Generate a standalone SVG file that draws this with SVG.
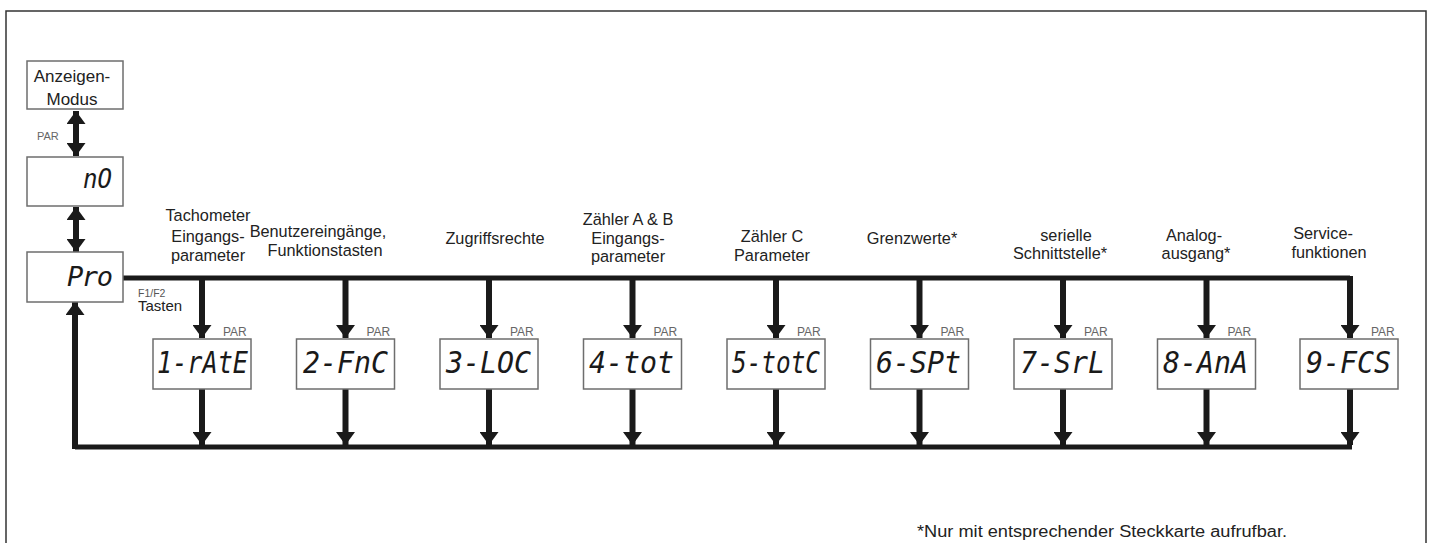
<svg xmlns="http://www.w3.org/2000/svg" width="1431" height="543" viewBox="0 0 1431 543">
<style>
.frame{fill:none;stroke:#333;stroke-width:1.5}
.box{fill:#fff;stroke:#6e6e6e;stroke-width:1.5}
.lbl{font-family:"Liberation Sans",Arial,sans-serif;font-size:16.3px;fill:#222;text-anchor:middle}
.par{font-family:"Liberation Sans",Arial,sans-serif;font-size:12px;fill:#666}
.seg{font-family:"DejaVu Sans Mono","Liberation Mono",monospace;font-style:italic;font-size:30px;fill:#1a1a1a}
.wire{fill:none;stroke:#1a1a1a;stroke-width:6;stroke-linejoin:miter}
.bus{fill:none;stroke:#1a1a1a;stroke-width:5;stroke-linejoin:miter}
</style>
<defs>
<marker id="head" markerUnits="userSpaceOnUse" viewBox="0 0 13 19" markerWidth="13" markerHeight="19" refX="13" refY="9.5" orient="auto">
<path d="M0,0 L13,9.5 L0,19 Z" fill="#1a1a1a"/>
</marker>
<marker id="headS" markerUnits="userSpaceOnUse" viewBox="0 0 13 19" markerWidth="13" markerHeight="19" refX="13" refY="9.5" orient="auto-start-reverse">
<path d="M0,0 L13,9.5 L0,19 Z" fill="#1a1a1a"/>
</marker>
</defs>
<rect width="1431" height="543" fill="#fff"/>
<path class="frame" d="M6,543 V11 H1426 V543"/>

<g id="connectors">
<line class="wire" x1="76" y1="111" x2="76" y2="156" marker-start="url(#headS)" marker-end="url(#head)"/>
<line class="wire" x1="76" y1="207" x2="76" y2="252" marker-start="url(#headS)" marker-end="url(#head)"/>
<path class="bus" d="M123,278 H1350"/>
<line class="wire" x1="1350" y1="276" x2="1350" y2="338" marker-end="url(#head)"/>
<path class="bus" d="M1352,447 H75"/>
<line class="wire" x1="75" y1="449" x2="75" y2="302" marker-end="url(#head)"/>
<g>
<line class="wire" x1="202" y1="278" x2="202" y2="338" marker-end="url(#head)"/>
<line class="wire" x1="345.5" y1="278" x2="345.5" y2="338" marker-end="url(#head)"/>
<line class="wire" x1="489" y1="278" x2="489" y2="338" marker-end="url(#head)"/>
<line class="wire" x1="632.5" y1="278" x2="632.5" y2="338" marker-end="url(#head)"/>
<line class="wire" x1="776" y1="278" x2="776" y2="338" marker-end="url(#head)"/>
<line class="wire" x1="919.5" y1="278" x2="919.5" y2="338" marker-end="url(#head)"/>
<line class="wire" x1="1063" y1="278" x2="1063" y2="338" marker-end="url(#head)"/>
<line class="wire" x1="1206.5" y1="278" x2="1206.5" y2="338" marker-end="url(#head)"/>
</g>
<g>
<line class="wire" x1="202" y1="389" x2="202" y2="445" marker-end="url(#head)"/>
<line class="wire" x1="345.5" y1="389" x2="345.5" y2="445" marker-end="url(#head)"/>
<line class="wire" x1="489" y1="389" x2="489" y2="445" marker-end="url(#head)"/>
<line class="wire" x1="632.5" y1="389" x2="632.5" y2="445" marker-end="url(#head)"/>
<line class="wire" x1="776" y1="389" x2="776" y2="445" marker-end="url(#head)"/>
<line class="wire" x1="919.5" y1="389" x2="919.5" y2="445" marker-end="url(#head)"/>
<line class="wire" x1="1063" y1="389" x2="1063" y2="445" marker-end="url(#head)"/>
<line class="wire" x1="1206.5" y1="389" x2="1206.5" y2="445" marker-end="url(#head)"/>
<line class="wire" x1="1350" y1="389" x2="1350" y2="445" marker-end="url(#head)"/>
</g>
<text class="par" x="37" y="140" style="font-size:11px">PAR</text>
<text class="par" x="138" y="297" style="font-size:10.5px;fill:#555">F1/F2</text>
<text class="lbl" x="138" y="311" style="text-anchor:start;font-size:15px">Tasten</text>
</g>

<g id="anzeigen-modus">
<rect class="box" x="27" y="61" width="96" height="48"/>
<text class="lbl" x="72" y="82" style="font-size:17px">Anzeigen-</text>
<text class="lbl" x="72" y="105" style="font-size:17px">Modus</text>
</g>
<g id="no">
<rect class="box" x="27" y="157" width="96" height="49"/>
<text class="seg" x="83" y="188" textLength="29" lengthAdjust="spacingAndGlyphs" style="font-size:26px">nO</text>
</g>
<g id="pro">
<rect class="box" x="27" y="252" width="96" height="50"/>
<text class="seg" x="67" y="286" textLength="46" lengthAdjust="spacing" style="font-size:27px">Pro</text>
</g>

<g id="n1">
<text class="lbl" x="208" y="221">Tachometer</text>
<text class="lbl" x="208" y="242">Eingangs-</text>
<text class="lbl" x="208" y="261">parameter</text>
<rect class="box" x="153" y="339" width="98" height="50"/>
<text class="seg" x="157" y="373" textLength="91" lengthAdjust="spacingAndGlyphs">1-rAtE</text>
<text class="par" x="223" y="336">PAR</text>
</g>
<g id="n2">
<text class="lbl" x="318" y="237">Benutzereingänge,</text>
<text class="lbl" x="325" y="256">Funktionstasten</text>
<rect class="box" x="296.5" y="339" width="98" height="50"/>
<text class="seg" x="303" y="373" textLength="85" lengthAdjust="spacingAndGlyphs">2-FnC</text>
<text class="par" x="366.5" y="336">PAR</text>
</g>
<g id="n3">
<text class="lbl" x="495" y="244">Zugriffsrechte</text>
<rect class="box" x="440" y="339" width="98" height="50"/>
<text class="seg" x="446" y="373" textLength="85" lengthAdjust="spacingAndGlyphs">3-LOC</text>
<text class="par" x="510" y="336">PAR</text>
</g>
<g id="n4">
<text class="lbl" x="628" y="225">Zähler A &amp; B</text>
<text class="lbl" x="628" y="244">Eingangs-</text>
<text class="lbl" x="628" y="262">parameter</text>
<rect class="box" x="583.5" y="339" width="98" height="50"/>
<text class="seg" x="589" y="373" textLength="85" lengthAdjust="spacingAndGlyphs">4-tot</text>
<text class="par" x="653.5" y="336">PAR</text>
</g>
<g id="n5">
<text class="lbl" x="772" y="242">Zähler C</text>
<text class="lbl" x="772" y="261">Parameter</text>
<rect class="box" x="727" y="339" width="98" height="50"/>
<text class="seg" x="732" y="373" textLength="88" lengthAdjust="spacingAndGlyphs">5-totC</text>
<text class="par" x="797" y="336">PAR</text>
</g>
<g id="n6">
<text class="lbl" x="912" y="244">Grenzwerte*</text>
<rect class="box" x="870.5" y="339" width="98" height="50"/>
<text class="seg" x="876" y="373" textLength="85" lengthAdjust="spacingAndGlyphs">6-SPt</text>
<text class="par" x="940.5" y="336">PAR</text>
</g>
<g id="n7">
<text class="lbl" x="1066" y="241">serielle</text>
<text class="lbl" x="1060" y="259">Schnittstelle*</text>
<rect class="box" x="1014" y="339" width="98" height="50"/>
<text class="seg" x="1020" y="373" textLength="85" lengthAdjust="spacingAndGlyphs">7-SrL</text>
<text class="par" x="1084" y="336">PAR</text>
</g>
<g id="n8">
<text class="lbl" x="1194" y="241">Analog-</text>
<text class="lbl" x="1196" y="259">ausgang*</text>
<rect class="box" x="1157.5" y="339" width="98" height="50"/>
<text class="seg" x="1163" y="373" textLength="85" lengthAdjust="spacingAndGlyphs">8-AnA</text>
<text class="par" x="1227.5" y="336">PAR</text>
</g>
<g id="n9">
<text class="lbl" x="1323" y="239">Service-</text>
<text class="lbl" x="1329" y="258">funktionen</text>
<rect class="box" x="1300" y="339" width="98" height="50"/>
<text class="seg" x="1306" y="373" textLength="85" lengthAdjust="spacingAndGlyphs">9-FCS</text>
<text class="par" x="1371" y="336">PAR</text>
</g>

<g id="footnote">
<text class="lbl" x="917" y="537" style="text-anchor:start;font-size:17.3px" textLength="370" lengthAdjust="spacingAndGlyphs">*Nur mit entsprechender Steckkarte aufrufbar.</text>
</g>
</svg>
